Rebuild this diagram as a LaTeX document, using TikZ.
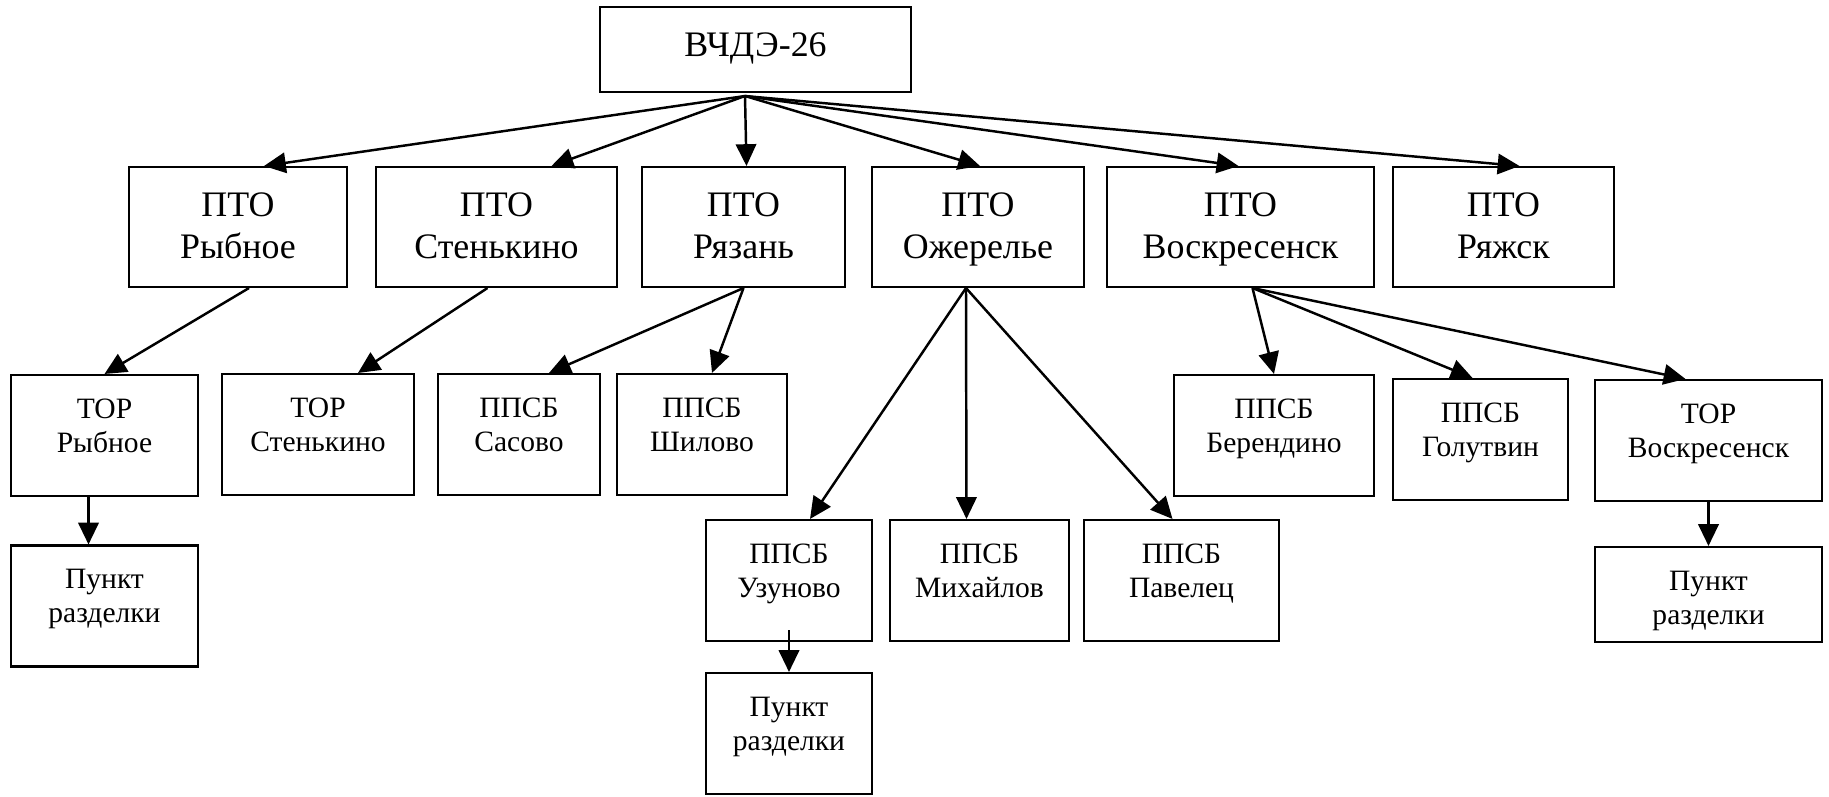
\documentclass[tikz,border=0pt]{standalone}
\usepackage{fontspec}
\setmainfont{Liberation Serif}
\usetikzlibrary{calc}
\usetikzlibrary{arrows.meta}
\tikzset{
  big/.style={draw, line width=.6pt, inner sep=0pt, align=center, font=\fontsize{10.2}{11.7}\selectfont, text height=25.9pt, text depth=8.2pt},
  small/.style={draw, line width=.6pt, inner sep=0pt, align=center, font=\fontsize{8.4}{9.7}\selectfont, text height=22pt, text depth=12.4pt},
  link/.style={line width=.7pt, -{Triangle[length=6.2pt,width=5.8pt]}}
}
\begin{document}
\begin{tikzpicture}[x=0.01cm, y=-0.01cm]
\useasboundingbox (0,0) rectangle (1829,796);
% depot
\node[big, minimum width=3.11cm, text height=14.2pt, text depth=10pt] (vchde) at (755.5,49.5) {ВЧДЭ-26};
\coordinate (hub) at (745,96);
% PTO row
\node[big, minimum width=2.18cm] (ryb) at (238,227) {ПТО\\Рыбное};
\node[big, minimum width=2.41cm] (sten) at (496.5,227) {ПТО\\Стенькино};
\node[big, minimum width=2.03cm] (ryaz) at (743.5,227) {ПТО\\Рязань};
\node[big, minimum width=2.12cm] (ozh) at (978,227) {ПТО\\Ожерелье};
\node[big, minimum width=2.67cm] (vosk) at (1240.5,227) {ПТО\\Воскресенск};
\node[big, minimum width=2.21cm] (ryazhsk) at (1503.5,227) {ПТО\\Ряжск};
% second row
\node[small, minimum width=1.87cm] (torRyb) at (104.5,435.5) {ТОР\\Рыбное};
\node[small, minimum width=1.92cm] (torSten) at (318,434.5) {ТОР\\Стенькино};
\node[small, minimum width=1.62cm] (sasovo) at (519,434.5) {ППСБ\\Сасово};
\node[small, minimum width=1.70cm] (shilovo) at (702,434.5) {ППСБ\\Шилово};
\node[small, minimum width=2.00cm] (berend) at (1274,435.5) {ППСБ\\Берендино};
\node[small, minimum width=1.75cm] (golut) at (1480.5,439.5) {ППСБ\\Голутвин};
\node[small, minimum width=2.27cm] (torVosk) at (1708.5,440.5) {ТОР\\Воскресенск};
% third row
\node[small, minimum width=1.87cm] (punktRyb) at (104.5,606) {Пункт\\разделки};
\node[small, minimum width=1.66cm] (uzun) at (789,580.5) {ППСБ\\Узуново};
\node[small, minimum width=1.79cm] (mikh) at (979.5,580.5) {ППСБ\\Михайлов};
\node[small, minimum width=1.95cm] (pavel) at (1181.5,580.5) {ППСБ\\Павелец};
\node[small, minimum width=2.27cm, text depth=5pt] (punktVosk) at (1708.5,594.5) {Пункт\\разделки};
\node[small, minimum width=1.66cm] (punktUz) at (789,733.5) {Пункт\\разделки};
% links from depot
\draw[link] (hub) -- ($(ryb.north)+(26,0)$);
\draw[link] (hub) -- ($(sten.north)+(55,0)$);
\draw[link] (hub) -- ($(ryaz.north)+(3,0)$);
\draw[link] (hub) -- ($(ozh.north)+(2,0)$);
\draw[link] (hub) -- ($(vosk.north)+(-2,0)$);
\draw[link] (hub) -- ($(ryazhsk.north)+(16,0)$);
% links from PTO
\draw[link] ($(ryb.south)+(11,0)$) -- (torRyb.north);
\draw[link] ($(sten.south)+(-9,0)$) -- ($(torSten.north)+(40,0)$);
\draw[link] (ryaz.south) -- ($(sasovo.north)+(30,0)$);
\draw[link] (ryaz.south) -- ($(shilovo.north)+(10,0)$);
\foreach \t/\dx in {uzun/21, mikh/-13, pavel/-9}
  \draw[link] ($(ozh.south)+(-12,0)$) -- ($(\t.north)+(\dx,0)$);
\foreach \t/\dx in {berend/0, golut/-8, torVosk/-23}
  \draw[link] ($(vosk.south)+(12,0)$) -- ($(\t.north)+(\dx,0)$);
% links to cutting points
\draw[link] ($(torRyb.south)+(-16,0)$) -- ($(punktRyb.north)+(-16,0)$);
\draw[link] ($(uzun.south)+(0,-12)$) -- (punktUz.north);
\draw[link] (torVosk.south) -- (punktVosk.north);
\end{tikzpicture}
\end{document}
